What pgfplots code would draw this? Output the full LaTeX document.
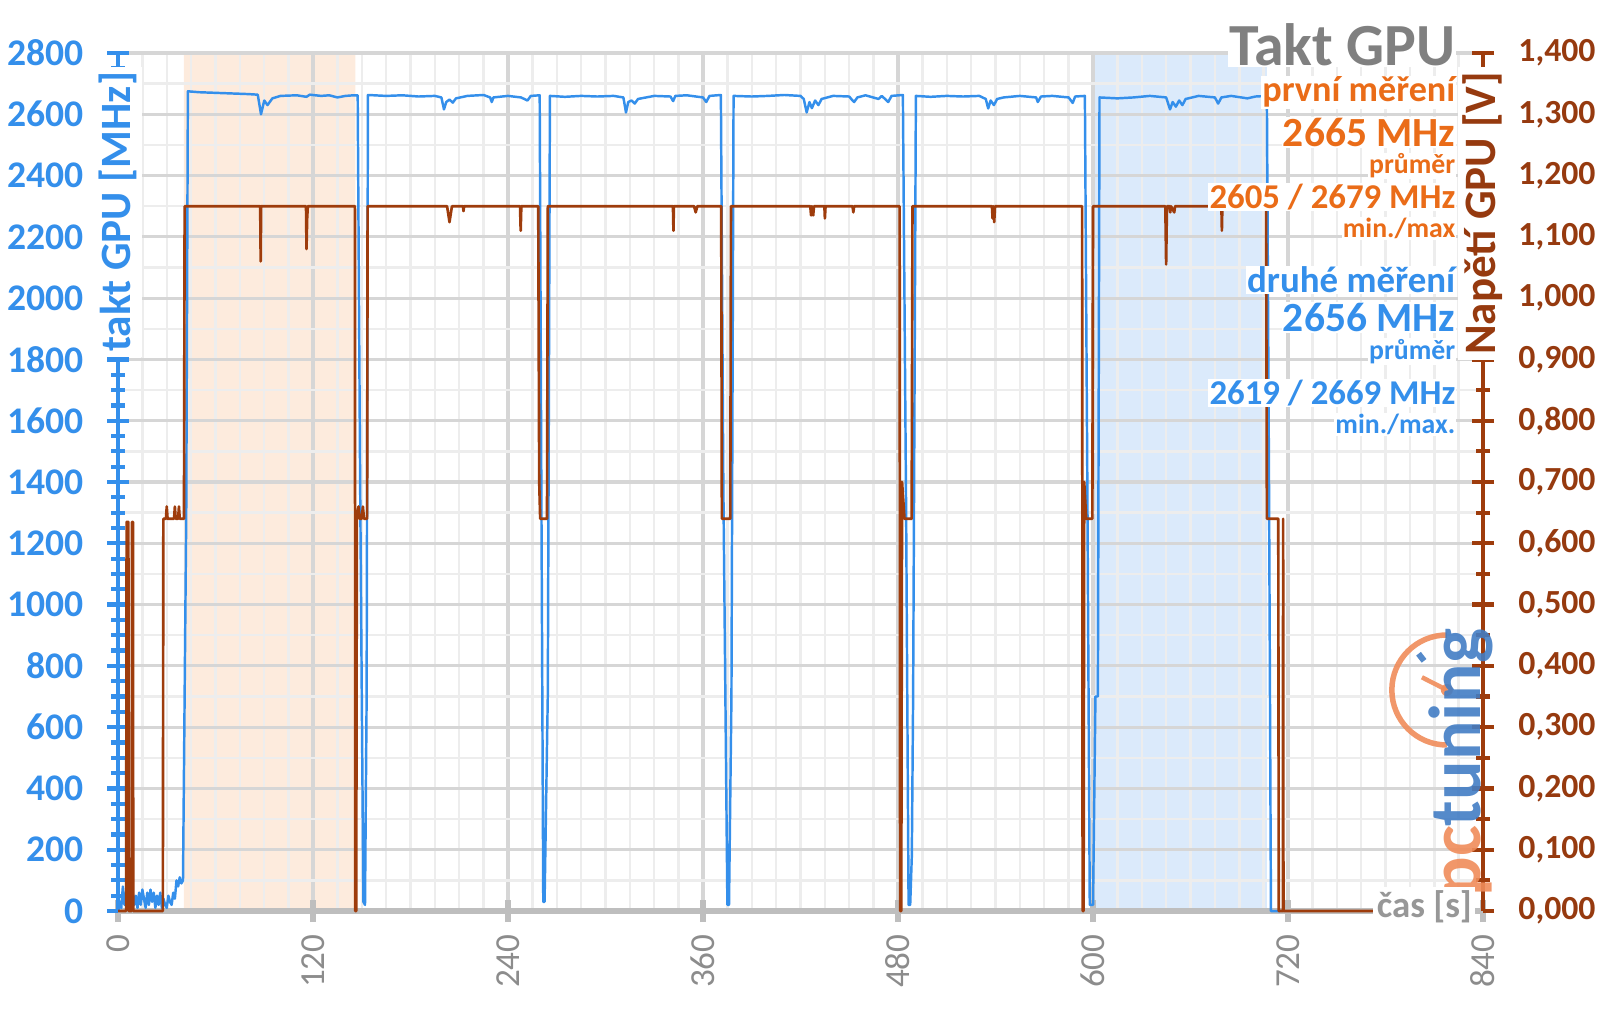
\documentclass[border=0pt]{standalone}
\usepackage{fontspec}
\setmainfont{Carlito}
\usepackage{pgfplots}
\pgfplotsset{compat=1.18}

\definecolor{clk}{RGB}{52,143,235}
\definecolor{volt}{RGB}{158,60,12}
\definecolor{voltlab}{RGB}{150,58,15}
\definecolor{orng}{RGB}{234,108,24}
\definecolor{ttl}{RGB}{128,128,128}
\definecolor{xlab}{RGB}{140,140,140}
\definecolor{xaxis}{RGB}{190,190,190}
\definecolor{shadeO}{RGB}{253,235,221}
\definecolor{shadeB}{RGB}{219,234,251}
\definecolor{gmaj}{RGB}{214,214,214}
\definecolor{gmin}{RGB}{237,237,237}
\definecolor{logoblue}{RGB}{66,125,196}
\definecolor{logoorng}{RGB}{240,140,90}

\begin{document}
\begin{tikzpicture}
% levá osa: takt GPU
\begin{axis}[
    set layers,
    scale only axis,
    width=136.5mm, height=85.8mm,
    xmin=0, xmax=840, ymin=0, ymax=2800,
    axis y line*=left, axis x line*=bottom,
    xtick={0,120,...,840},
    ytick={0,200,...,2800},
    minor x tick num=7,
    minor y tick num=1,
    grid=both,
    major grid style={gmaj, line width=0.9pt},
    minor grid style={gmin, line width=0.7pt},
    minor x tick style={draw=none},
    tick align=center,
    major tick length=2.2mm,
    minor tick length=1.4mm,
    x axis line style={xaxis, line width=1.5pt},
    y axis line style={clk, line width=1.3pt},
    xtick style={xaxis, line width=1.5pt},
    ytick style={clk, line width=1.2pt},
    extra y ticks={50,150,...,2750},
    extra y tick labels={},
    extra y tick style={grid=none, major tick length=1.4mm},
    /pgf/number format/assume math mode=true,
    /pgf/number format/1000 sep={},
    xticklabel style={rotate=90, anchor=east, text=xlab, font=\fontsize{10}{12}\selectfont},
    yticklabel style={text=clk, font=\bfseries\fontsize{10.7}{12}\selectfont, xshift=-1.1mm},
    clip=false,
]
\addplot[draw=none, fill=shadeO, on layer=axis background] coordinates {(40.5,0) (40.5,2800) (146,2800) (146,0)} \closedcycle;
\addplot[draw=none, fill=shadeB, on layer=axis background] coordinates {(600,0) (600,2800) (707,2800) (707,0)} \closedcycle;

\addplot[clk, line width=0.7pt, line join=round] coordinates {
 (0,0)(1,30)(2,10)(3,80)(4,20)(5,60)(6,10)(7,70)(8,30)(9,60)(10,20)(11,50)(12,10)(13,60)
 (14,20)(15,70)(16,40)(17,10)(18,60)(19,20)(20,70)(21,30)(22,60)(23,10)(24,50)(25,20)
 (26,60)(27,10)(28,40)(29,20)(30,10)(31,50)(32,30)(33,20)(34,60)(35,40)(36,100)(37,80)
 (38,110)(39,90)(40,100)(41,700)(42,1300)(43,2675)
 (50,2672)(60,2670)(70,2668)(80,2666)(86,2664)(88,2600)(90,2645)(92,2630)(95,2652)
 (100,2660)(110,2662)(116,2657)(118,2664)(125,2660)(130,2662)(135,2655)(140,2660)(145,2662)
 (147.5,2662)(149,1400)(151,30)(152,20)(153,700)(153.8,2663)
 (165,2660)(175,2662)(185,2658)(195,2660)(199,2655)(200.6,2616)(202,2640)(204,2648)
 (206,2638)(208,2652)(215,2660)(225,2663)(229,2655)(230,2640)(231,2655)(240,2660)
 (248,2655)(252,2645)(254,2660)(259.5,2662)(260.5,1400)(261.7,30)(262.5,30)(264.5,710)(265.8,2660)
 (275,2657)(285,2660)(295,2658)(305,2660)(311,2655)(312.6,2606)(314,2640)(316,2645)
 (318,2635)(320,2650)(330,2660)(340,2658)(341.6,2643)(343,2660)(350,2662)(360,2655)
 (362,2640)(364,2660)(371,2663)(372.5,1400)(375,20)(376,20)(377.5,700)(378.8,2660)
 (390,2658)(400,2660)(410,2663)(420,2660)(422,2650)(423.8,2606)(425.5,2640)(427,2620)
 (429,2645)(431,2630)(433,2650)(440,2660)(450,2658)(452,2645)(453,2640)(455,2655)
 (460,2662)(468,2650)(470,2660)(474,2640)(476,2660)(483,2663)(485,1300)(486.5,20)
 (487.5,20)(488.5,180)(489.3,700)(491,2660)
 (500,2657)(510,2660)(520,2658)(530,2660)(534,2650)(535.5,2619)(537,2645)(539,2630)
 (541,2650)(545,2655)(555,2660)(565,2655)(566,2640)(568,2658)(575,2660)(585,2655)
 (587.5,2637)(589,2658)(595,2660)(596.5,1400)(598,20)(600,20)(601.5,700)(603,700)(604,2655)
 (615,2652)(625,2655)(635,2660)(645,2655)(647.4,2616)(649,2640)(651,2625)(653,2645)
 (655,2630)(657,2650)(665,2660)(675,2655)(677,2635)(679,2655)(685,2660)(695,2652)
 (700,2658)(707,2660)(708.3,1400)(709.5,0)(715,0)
};

\node[rotate=90, anchor=east, fill=white, inner sep=1.5pt, text=clk,
      font=\bfseries\fontsize{12.3}{13}\selectfont] at (rel axis cs:0,0.985) {takt GPU [MHz]};
\end{axis}

% pravá osa: napětí GPU
\begin{axis}[
    set layers,
    scale only axis,
    width=136.5mm, height=85.8mm,
    xmin=0, xmax=840, ymin=0, ymax=1.4,
    axis y line*=right, axis x line=none,
    ytick={0,0.1,0.2,0.3,0.4,0.5,0.6,0.7,0.8,0.9,1.0,1.1,1.2,1.3,1.4},
    minor y tick num=1,
    tick align=center,
    major tick length=2.2mm,
    minor tick length=1.4mm,
    y axis line style={volt, line width=1.3pt},
    ytick style={volt, line width=1.2pt},
    /pgf/number format/assume math mode=true,
    yticklabel style={text=voltlab, font=\bfseries\fontsize{9.6}{12}\selectfont, xshift=1.2mm,
        /pgf/number format/.cd, fixed, fixed zerofill, precision=3, use comma, 1000 sep={}},
    clip=false,
]
\addplot[volt, line width=0.75pt, line join=round] coordinates {
 (0,0)(5,0)(5.3,0.635)(6.4,0.635)(6.6,0)(8.4,0)(8.6,0.635)(9.2,0.635)(9.4,0)
 (27.6,0)(27.9,0.64)(29.5,0.64)(30,0.66)(30.5,0.64)(34.5,0.64)(35,0.66)(35.5,0.64)
 (37,0.64)(37.5,0.66)(38,0.64)(40.6,0.64)(41,1.15)
 (87.5,1.15)(87.8,1.06)(88.1,1.15)(115.7,1.15)(116,1.08)(116.4,1.13)(116.8,1.15)
 (145.8,1.15)(146,0)(146.6,0)(147,0.64)(148,0.66)(148.7,0.64)(150,0.64)(150.7,0.66)
 (151.4,0.64)(153.3,0.64)(153.6,1.15)
 (202.5,1.15)(204,1.124)(205.5,1.15)(212.3,1.15)(212.6,1.142)(213,1.15)
 (247.4,1.15)(247.8,1.11)(248.2,1.15)(258.6,1.15)(259.2,0.70)(259.8,0.64)(264,0.64)(264.5,1.15)
 (341.5,1.15)(341.8,1.11)(342.1,1.15)(354.5,1.15)(355.5,1.14)(356.5,1.15)
 (371.2,1.15)(371.6,0.64)(376.8,0.64)(377.2,1.15)
 (426,1.15)(426.5,1.135)(427,1.15)(427.8,1.135)(428.3,1.15)(434.7,1.15)(435,1.13)(435.4,1.15)
 (452,1.15)(452.5,1.14)(453,1.15)(481,1.15)(481.3,0)(482,0)(482.5,0.70)(484,0.64)
 (488.4,0.64)(488.9,1.15)
 (537.8,1.15)(538.2,1.13)(538.6,1.15)(539.2,1.124)(539.7,1.15)
 (593.3,1.15)(593.6,0)(594.2,0)(594.6,0.70)(595.8,0.64)(599.6,0.64)(600,1.15)
 (644.5,1.15)(645,1.055)(645.5,1.15)(647,1.15)(647.5,1.14)(648,1.15)(650,1.14)(650.5,1.15)
 (679,1.15)(679.3,1.11)(679.6,1.15)(706.5,1.15)(707,0.64)(714,0.64)(714.3,0)
 (716.8,0)(717,0.64)(717.2,0)(777,0)
};

\node[rotate=90, anchor=east, fill=white, inner sep=1.5pt, text=voltlab,
      font=\bfseries\fontsize{12.8}{14}\selectfont] at (rel axis cs:1,0.985) {Napětí GPU [V]};

% logo
\begin{scope}[opacity=0.9]
\draw[logoorng, line width=0.55mm] ([shift={(0,5.5mm)}]rel axis cs:0.9735,0.2576) arc[start angle=90, end angle=270, radius=5.5mm];
\draw[logoorng, line width=0.45mm] (rel axis cs:0.9735,0.2576) -- ++(153:2.8mm);
\fill[logoorng] (rel axis cs:0.9735,0.2576) circle (0.6mm);
\draw[logoblue, line width=0.6mm] ([shift={(128:4.6mm)}]rel axis cs:0.9735,0.2576) -- ++(128:-0.9mm);
\node[rotate=90, anchor=base west, inner sep=0, font=\bfseries\fontsize{21}{21}\selectfont]
  at (rel axis cs:0.998,0.016) {\textcolor{logoorng}{pc}\textcolor{logoblue}{tuning}};
\end{scope}

\node[anchor=base east, fill=white, inner sep=1pt, text=xlab!90, font=\bfseries\fontsize{10.5}{12}\selectfont]
  at (rel axis cs:0.995,-0.008) {čas [s]};

% popisky vpravo nahoře
\tikzset{lab/.style={anchor=base east, fill=white, inner sep=0.3pt}}
\node[lab, text=ttl, font=\bfseries\fontsize{17}{18}\selectfont] at (rel axis cs:0.981,0.986) {Takt GPU};
\node[lab, text=orng, font=\bfseries\fontsize{10.3}{11}\selectfont] at (rel axis cs:0.981,0.943) {první měření};
\node[lab, text=orng, font=\bfseries\fontsize{11.8}{12}\selectfont] at (rel axis cs:0.981,0.891) {2665 MHz};
\node[lab, text=orng, font=\bfseries\fontsize{7.9}{9}\selectfont] at (rel axis cs:0.981,0.859) {průměr};
\node[lab, text=orng, font=\bfseries\fontsize{9.9}{11}\selectfont] at (rel axis cs:0.981,0.819) {2605 / 2679 MHz};
\node[lab, text=orng, font=\bfseries\fontsize{7.9}{9}\selectfont] at (rel axis cs:0.981,0.785) {min./max};
\node[lab, text=clk, font=\bfseries\fontsize{10.5}{11}\selectfont] at (rel axis cs:0.981,0.7206) {druhé měření};
\node[lab, text=clk, font=\bfseries\fontsize{11.8}{12}\selectfont] at (rel axis cs:0.981,0.675) {2656 MHz};
\node[lab, text=clk, font=\bfseries\fontsize{7.9}{9}\selectfont] at (rel axis cs:0.981,0.643) {průměr};
\node[lab, text=clk, font=\bfseries\fontsize{9.9}{11}\selectfont] at (rel axis cs:0.981,0.590) {2619 / 2669 MHz};
\node[lab, text=clk, font=\bfseries\fontsize{7.9}{9}\selectfont] at (rel axis cs:0.981,0.556) {min./max.};
\end{axis}
\pgfresetboundingbox
\path (-11.8mm,-9.8mm) rectangle (148.2mm,91.1mm);
\end{tikzpicture}
\end{document}
